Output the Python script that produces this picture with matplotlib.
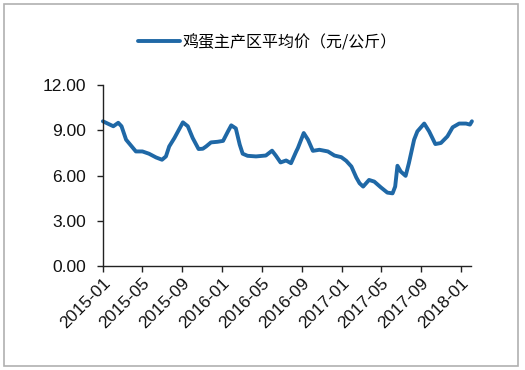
import matplotlib
matplotlib.use("Agg")
import matplotlib.pyplot as plt
import pandas as pd
from matplotlib.patches import Rectangle

dates = ["2015-01-01", "2015-02-02", "2015-02-17", "2015-02-27", "2015-03-13", "2015-04-12",
         "2015-05-02", "2015-05-22", "2015-06-13", "2015-07-01", "2015-07-13", "2015-07-23",
         "2015-08-08", "2015-09-03", "2015-09-18", "2015-10-03", "2015-10-21", "2015-11-03",
         "2015-11-13", "2015-11-28", "2015-12-18", "2016-01-04", "2016-01-19", "2016-01-29",
         "2016-02-12", "2016-02-24", "2016-03-04", "2016-03-19", "2016-04-14", "2016-05-14",
         "2016-06-02", "2016-06-14", "2016-06-28", "2016-07-15", "2016-07-30", "2016-08-15",
         "2016-08-20", "2016-09-07", "2016-09-20", "2016-10-05", "2016-10-25", "2016-11-20",
         "2016-12-10", "2016-12-31", "2017-01-15", "2017-01-31", "2017-02-15", "2017-02-25",
         "2017-03-08", "2017-03-26", "2017-04-11", "2017-05-01", "2017-05-21", "2017-06-06",
         "2017-06-14", "2017-06-21", "2017-07-01", "2017-07-16", "2017-07-26", "2017-08-11",
         "2017-08-21", "2017-09-11", "2017-09-26", "2017-10-15", "2017-11-01", "2017-11-21",
         "2017-12-07", "2017-12-27", "2018-01-17", "2018-01-29", "2018-02-04"]
prices = [9.60, 9.27, 9.50, 9.27, 8.38, 7.60,
          7.60, 7.45, 7.20, 7.05, 7.27, 7.93,
          8.49, 9.53, 9.27, 8.49, 7.76, 7.78,
          7.93, 8.20, 8.24, 8.30, 8.93, 9.33,
          9.13, 8.05, 7.45, 7.31, 7.27, 7.33,
          7.65, 7.31, 6.87, 7.00, 6.82, 7.60,
          7.82, 8.82, 8.38, 7.64, 7.71, 7.60,
          7.33, 7.22, 6.98, 6.60, 5.87, 5.49,
          5.27, 5.71, 5.60, 5.22, 4.87, 4.82,
          5.27, 6.65, 6.27, 5.98, 6.82, 8.38,
          8.93, 9.45, 8.93, 8.09, 8.16, 8.60,
          9.20, 9.45, 9.45, 9.38, 9.60]
tick_labels = ["2015-01", "2015-05", "2015-09", "2016-01", "2016-05", "2016-09",
               "2017-01", "2017-05", "2017-09", "2018-01"]
y_ticks = [0, 3, 6, 9, 12]
series_name = "鸡蛋主产区平均价（元/公斤）"

plt.rcParams['font.family'] = ['Liberation Sans', 'Noto Sans CJK SC', 'DejaVu Sans']

fig = plt.figure(figsize=(5.25, 3.70), dpi=100)
ax = fig.add_axes([0.196, 0.281, 0.701, 0.489])

x = pd.to_datetime(dates)
line, = ax.plot(x, prices, color="#1f68a6", lw=2.8, solid_capstyle="round",
                solid_joinstyle="round", label=series_name, clip_on=False)

ax.set_ylim(0, 12)
ax.set_yticks(y_ticks)
ax.set_yticklabels([f"{v:.2f}" for v in y_ticks], fontsize=12.5)
ax.set_xlim(pd.Timestamp("2015-01-01"), pd.Timestamp("2018-02-01"))
ax.set_xticks(pd.to_datetime([t + "-01" for t in tick_labels]))
ax.set_xticklabels(tick_labels, rotation=45, ha="right", rotation_mode="anchor", fontsize=12.5)

for s in ["top", "right"]:
    ax.spines[s].set_visible(False)
for s in ["left", "bottom"]:
    ax.spines[s].set_color("#222222")
    ax.spines[s].set_linewidth(1.0)
ax.tick_params(axis="both", direction="out", length=4, width=1, color="#222222", labelcolor="#111111")
ax.tick_params(axis="y", pad=8)
ax.tick_params(axis="x", pad=3)

leg = fig.legend(handles=[line], loc="center", bbox_to_anchor=(0.51, 0.885), frameon=False,
                 prop={"family": ["Noto Sans CJK SC", "DejaVu Sans"], "size": 11.5},
                 handlelength=2.6, handletextpad=0.2)

fig.patches.append(Rectangle((0.008, 0.012), 0.978, 0.976, transform=fig.transFigure,
                             fill=False, edgecolor="#b0b0b0", lw=1.2))

fig.savefig("out.png", dpi=100)
